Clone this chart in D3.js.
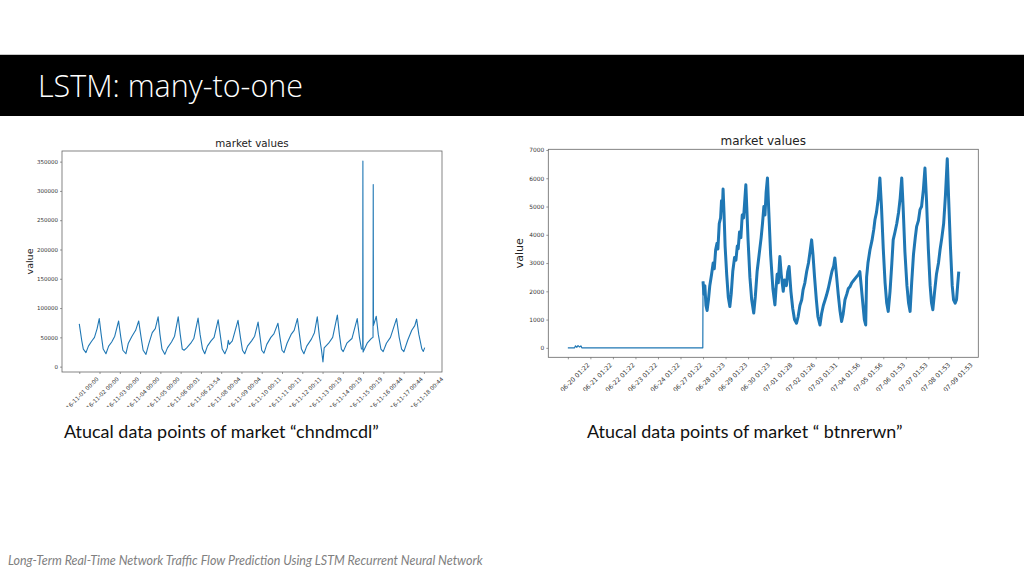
<!DOCTYPE html>
<html>
<head>
<meta charset="utf-8">
<script src="https://cdn.jsdelivr.net/npm/d3@7"></script>
<style>
  html, body { margin: 0; padding: 0; background: #fff; }
  svg { display: block; }
</style>
</head>
<body>
<svg id="slide" width="1024" height="576"></svg>
<script>
// ---- data ----

// left chart: market "chndmcdl", x in tick units (one tick per day)
const leftTickLabels = ["2016-11-01 00:00", "2016-11-02 00:00", "2016-11-03 00:00", "2016-11-04 00:00",
  "2016-11-05 00:00", "2016-11-06 00:01", "2016-11-06 23:54", "2016-11-08 00:04", "2016-11-09 00:04",
  "2016-11-10 00:11", "2016-11-11 00:11", "2016-11-12 00:11", "2016-11-13 00:19", "2016-11-14 00:19",
  "2016-11-15 00:19", "2016-11-16 00:44", "2016-11-17 00:44", "2016-11-18 00:44"];
const leftYTicks = [0, 50000, 100000, 150000, 200000, 250000, 300000, 350000];
const leftX = [0, 0.12, 0.2, 0.33, 0.45, 0.6, 0.75, 0.88, 0.985, 1.08, 1.18, 1.315, 1.45, 1.6, 1.75, 1.94,
  2.05, 2.15, 2.3, 2.42, 2.6, 2.78, 2.93, 3.05, 3.15, 3.29, 3.42, 3.6, 3.75, 3.89, 3.98, 4.08, 4.22, 4.35,
  4.55, 4.7, 4.88, 4.98, 5.08, 5.17, 5.3, 5.5, 5.65, 5.86, 5.96, 6.08, 6.19, 6.32, 6.5, 6.65, 6.85, 6.95,
  7.05, 7.18, 7.3, 7.35, 7.4, 7.55, 7.83, 7.95, 8.05, 8.16, 8.3, 8.5, 8.65, 8.82, 8.92, 9.0, 9.11, 9.25,
  9.45, 9.6, 9.8, 9.9, 10.0, 10.1, 10.25, 10.45, 10.6, 10.76, 10.86, 10.96, 11.08, 11.22, 11.45, 11.6,
  11.74, 11.85, 11.95, 12.02, 12.08, 12.3, 12.5, 12.73, 12.83, 12.93, 13.02, 13.2, 13.45, 13.71, 13.82,
  13.92, 13.98, 13.99, 14.0, 14.2, 14.4, 14.49, 14.5, 14.51, 14.65, 14.75, 14.88, 14.99, 15.15, 15.35,
  15.65, 15.78, 15.9, 16.01, 16.2, 16.4, 16.55, 16.64, 16.75, 16.9, 16.97, 17.04];
const leftY = [73000, 45000, 30000, 24000, 35000, 43000, 50000, 65000, 82000, 55000, 30000, 22000, 35000,
  42000, 52000, 78000, 50000, 28000, 22000, 40000, 52000, 62000, 78000, 50000, 28000, 21000, 38000, 58000,
  65000, 85000, 55000, 30000, 21000, 32000, 42000, 52000, 85000, 55000, 30000, 28000, 32000, 40000, 48000,
  83000, 55000, 30000, 22000, 35000, 44000, 50000, 80000, 55000, 30000, 22000, 32000, 45000, 38000, 44000,
  79000, 50000, 28000, 22000, 35000, 44000, 52000, 76000, 50000, 28000, 23000, 38000, 50000, 56000, 74000,
  50000, 28000, 24000, 40000, 55000, 62000, 82000, 55000, 30000, 22000, 35000, 47000, 58000, 85000, 50000,
  28000, 8000, 32000, 40000, 50000, 88000, 55000, 30000, 25600, 40000, 48000, 82000, 50000, 30000, 30000,
  351000, 25000, 40000, 48000, 50000, 311000, 70000, 86000, 55000, 30000, 25600, 40000, 50000, 82000,
  50000, 30000, 25600, 45000, 62000, 70000, 81000, 55000, 30000, 26000, 32400];

// right chart: market "btnrerwn"
const rightTickLabels = ["2017-06-20 01:22", "2017-06-21 01:22", "2017-06-22 01:22", "2017-06-23 01:22",
  "2017-06-24 01:22", "2017-06-27 01:22", "2017-06-28 01:23", "2017-06-29 01:23", "2017-06-30 01:23",
  "2017-07-01 01:28", "2017-07-02 01:26", "2017-07-03 01:31", "2017-07-04 01:56", "2017-07-05 01:56",
  "2017-07-06 01:53", "2017-07-07 01:53", "2017-07-08 01:53", "2017-07-09 01:53"];
const rightYTicks = [0, 1000, 2000, 3000, 4000, 5000, 6000, 7000];
const rightX = [0, 0.3, 0.34, 0.4, 0.45, 0.52, 0.58, 0.62, 5.99, 6.0, 6.04, 6.08, 6.13, 6.18, 6.24, 6.3,
  6.38, 6.45, 6.5, 6.56, 6.62, 6.66, 6.72, 6.78, 6.82, 6.86, 6.89, 6.93, 6.98, 7.05, 7.12, 7.19, 7.25,
  7.32, 7.4, 7.46, 7.52, 7.56, 7.62, 7.68, 7.74, 7.8, 7.86, 7.9, 7.94, 8.0, 8.08, 8.16, 8.25, 8.32, 8.4,
  8.46, 8.52, 8.58, 8.64, 8.7, 8.75, 8.8, 8.86, 8.92, 9.0, 9.1, 9.19, 9.24, 9.29, 9.34, 9.41, 9.47, 9.56,
  9.62, 9.7, 9.76, 9.82, 9.9, 9.98, 10.06, 10.15, 10.22, 10.3, 10.38, 10.44, 10.52, 10.6, 10.68, 10.75,
  10.82, 10.88, 10.95, 11.03, 11.1, 11.19, 11.26, 11.34, 11.42, 11.48, 11.56, 11.64, 11.72, 11.8, 11.85,
  11.92, 12.0, 12.08, 12.15, 12.22, 12.3, 12.38, 12.45, 12.52, 12.6, 12.7, 12.8, 12.9, 12.96, 13.02, 13.1,
  13.16, 13.22, 13.26, 13.32, 13.41, 13.5, 13.58, 13.63, 13.7, 13.78, 13.85, 13.92, 14.0, 14.08, 14.15,
  14.22, 14.3, 14.38, 14.44, 14.52, 14.6, 14.68, 14.75, 14.82, 14.88, 14.96, 15.05, 15.12, 15.19, 15.26,
  15.34, 15.42, 15.48, 15.56, 15.63, 15.7, 15.78, 15.85, 15.92, 16.0, 16.08, 16.14, 16.2, 16.28, 16.36,
  16.45, 16.52, 16.6, 16.68, 16.76, 16.84, 16.9, 16.98, 17.06, 17.12, 17.19, 17.25, 17.3, 17.35];
const rightY = [0, 0, 70, 20, 80, 30, 70, 0, 0, 2350, 1900, 2200, 1500, 1320, 1700, 2200, 2600, 3000, 2800,
  3470, 3700, 3500, 4400, 4600, 5200, 4900, 5620, 4800, 3600, 2600, 1800, 1460, 1900, 2700, 3200, 3100,
  3600, 3500, 4100, 3900, 4700, 4600, 5300, 5770, 5000, 3800, 2500, 1700, 1230, 1800, 2700, 3100, 3500,
  3900, 4400, 5000, 4700, 5500, 6010, 4800, 3300, 2100, 1520, 2100, 2600, 2300, 3230, 2600, 2000, 2400,
  2200, 2700, 2880, 2000, 1400, 1000, 870, 1100, 1500, 1700, 2050, 2300, 2700, 3000, 3400, 3820, 3300,
  2500, 1700, 1100, 810, 1200, 1500, 1700, 1860, 2100, 2400, 2700, 2900, 3180, 2600, 1900, 1300, 930,
  1200, 1700, 1900, 2100, 2160, 2300, 2400, 2500, 2600, 2700, 2200, 1500, 1000, 810, 2500, 3000, 3470,
  3800, 4200, 4530, 4800, 5300, 6010, 5000, 3500, 2300, 1600, 1290, 2000, 3000, 3820, 4100, 4400, 4800,
  5300, 6010, 5000, 3400, 2200, 1600, 1290, 2300, 3300, 3900, 4290, 4500, 4890, 5000, 5600, 6360, 5200,
  3500, 2200, 1600, 1350, 2000, 2600, 3000, 3470, 3900, 4400, 5400, 6690, 5300, 3600, 2200, 1700, 1580,
  1700, 2200, 2700];

const BLUE = "#1f77b4";
const svg = d3.select("#slide");

// fit a text to a measured width by scaling its font size
function fit(t, w) {
  const l = t.node().getComputedTextLength();
  const fs = parseFloat(t.attr("font-size"));
  t.attr("font-size", fs * w / l);
}

// padded extent like matplotlib's 5% margins
function padded(vals) {
  const [a, b] = d3.extent(vals);
  const m = (b - a) * 0.05;
  return [a - m, b + m];
}

// ---- slide header ----
svg.append("line").attr("x1", 0).attr("x2", 1024).attr("y1", 54.5).attr("y2", 54.5)
  .attr("stroke", "#c8c8c8").attr("stroke-width", 1);
svg.append("rect").attr("x", 0).attr("y", 55).attr("width", 1024).attr("height", 61).attr("fill", "#000");
const title = svg.append("text").attr("x", 38).attr("y", 97)
  .attr("font-family", "'Open Sans', sans-serif").attr("font-weight", 300)
  .attr("font-size", 30).attr("fill", "#fff").text("LSTM: many-to-one");
fit(title, 265);

// ---- one matplotlib-like chart ----
function drawChart(opt) {
  const clipId = "clip-" + opt.name;
  svg.append("clipPath").attr("id", clipId).append("rect")
    .attr("x", opt.clip[0]).attr("y", opt.clip[1]).attr("width", opt.clip[2]).attr("height", opt.clip[3]);
  const g = svg.append("g").attr("clip-path", `url(#${clipId})`);

  const x = d3.scaleLinear().domain(padded(opt.xs)).range([opt.left, opt.right]);
  const y = d3.scaleLinear().domain(padded(opt.ys)).range([opt.bottom, opt.top]);

  // title and y label
  g.append("text").attr("x", (opt.left + opt.right) / 2).attr("y", opt.top - 4)
    .attr("text-anchor", "middle").attr("font-family", "'DejaVu Sans', sans-serif")
    .attr("font-size", opt.titleSize).attr("fill", "#222").text("market values");
  g.append("text").attr("transform", `translate(${opt.ylabX},${(opt.top + opt.bottom) / 2}) rotate(-90)`)
    .attr("text-anchor", "middle").attr("dominant-baseline", "central")
    .attr("font-family", "'DejaVu Sans', sans-serif").attr("font-size", opt.ylabSize)
    .attr("fill", "#222").text("value");

  // axes
  const yAxis = g.append("g").attr("transform", `translate(${opt.left},0)`)
    .call(d3.axisLeft(y).tickValues(opt.yTicks).tickFormat(d3.format("d")).tickSize(2).tickPadding(2));
  const xAxis = g.append("g").attr("transform", `translate(0,${opt.bottom})`)
    .call(d3.axisBottom(x).tickValues(d3.range(opt.labels.length)).tickFormat(i => opt.labels[i])
      .tickSize(2));
  [yAxis, xAxis].forEach(a => {
    a.select(".domain").remove();
    a.selectAll(".tick line").attr("stroke", "#555").attr("stroke-width", 0.6);
    a.selectAll("text").attr("font-family", "'DejaVu Sans', sans-serif").attr("fill", "#333");
  });
  yAxis.selectAll("text").attr("font-size", opt.yTickSize);
  xAxis.selectAll(".tick text").attr("font-size", opt.xTickSize)
    .attr("y", 0).attr("dy", null).attr("text-anchor", "middle").attr("dominant-baseline", "central")
    .attr("transform", function () {
      const len = this.getComputedTextLength();
      const off = 4 + (len + opt.xTickSize) * Math.SQRT1_2 / 2;
      return `translate(0,${off}) rotate(-45)`;
    });

  // data line(s)
  const pts = opt.xs.map((v, i) => [v, opt.ys[i]]);
  const line = d3.line().x(d => x(d[0])).y(d => y(d[1]));
  opt.parts.forEach(p => {
    g.append("path").datum(pts.filter(d => d[0] >= p.from && d[0] <= p.to))
      .attr("d", line).attr("fill", "none").attr("stroke", BLUE)
      .attr("stroke-width", p.width).attr("stroke-linejoin", "round");
  });

  // frame
  g.append("rect").attr("x", opt.left).attr("y", opt.top)
    .attr("width", opt.right - opt.left).attr("height", opt.bottom - opt.top)
    .attr("fill", "none").attr("stroke", "#666").attr("stroke-width", 0.8);
}

drawChart({
  name: "left", xs: leftX, ys: leftY, labels: leftTickLabels, yTicks: leftYTicks,
  left: 62, right: 442, top: 151, bottom: 372, clip: [0, 125, 470, 282],
  titleSize: 10.3, ylabX: 29, ylabSize: 9.5, yTickSize: 5.5, xTickSize: 5.6,
  parts: [{ from: -1, to: 99, width: 1.1 }]
});

drawChart({
  name: "right", xs: rightX, ys: rightY, labels: rightTickLabels, yTicks: rightYTicks,
  left: 548.3, right: 978.3, top: 149.3, bottom: 357.3, clip: [491, 117, 520, 274],
  titleSize: 12, ylabX: 519, ylabSize: 11, yTickSize: 5.9, xTickSize: 6.3,
  parts: [{ from: -1, to: 6.0, width: 1.2 }, { from: 6.0, to: 99, width: 3.0 }]
});

// ---- captions and footer ----
const capL = svg.append("text").attr("x", 64).attr("y", 438)
  .attr("font-family", "Lato, 'Open Sans', sans-serif").attr("font-size", 18).attr("fill", "#111")
  .text("Atucal data points of market \u201Cchndmcdl\u201D");
fit(capL, 315);
const capR = svg.append("text").attr("x", 587).attr("y", 438)
  .attr("font-family", "Lato, 'Open Sans', sans-serif").attr("font-size", 18).attr("fill", "#111")
  .text("Atucal data points of market \u201C btnrerwn\u201D");
fit(capR, 316);
const foot = svg.append("text").attr("x", 8).attr("y", 565)
  .attr("font-family", "Lato, 'Open Sans', sans-serif").attr("font-style", "italic")
  .attr("font-size", 12).attr("fill", "#808080")
  .text("Long-Term Real-Time Network Traffic Flow Prediction Using LSTM Recurrent Neural Network");
fit(foot, 475);
</script>
</body>
</html>
